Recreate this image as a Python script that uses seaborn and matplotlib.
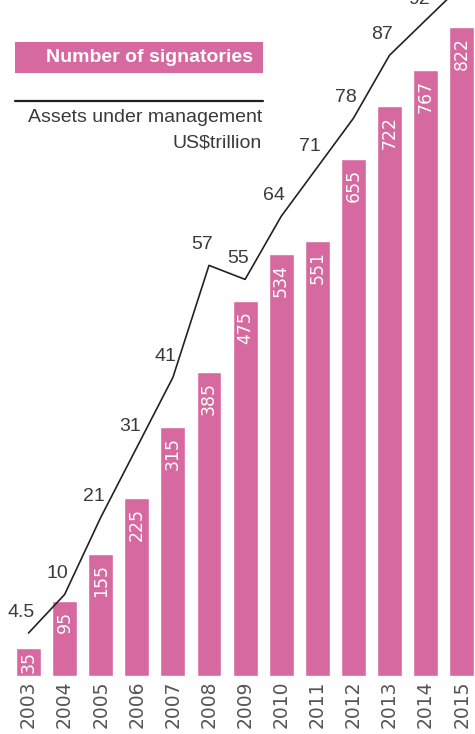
import numpy as np
import pandas as pd
import matplotlib
matplotlib.use("Agg")
import matplotlib.pyplot as plt
import seaborn as sns

years = ["2003", "2004", "2005", "2006", "2007", "2008", "2009",
         "2010", "2011", "2012", "2013", "2014", "2015"]
signatories = [35, 95, 155, 225, 315, 385, 475, 534, 551, 655, 722, 767, 822]
assets = [4.5, 10, 21, 31, 41, 57, 55, 64, 71, 78, 87, 92, 97]
asset_labels = ["4.5", "10", "21", "31", "41", "57", "55", "64", "71", "78", "87", "92", ""]

legend_bar = "Number of signatories"
legend_line_1 = "Assets under management"
legend_line_2 = "US\\$trillion"

sns.set_theme(style="white")
plt.rcParams["font.family"] = ["Liberation Sans", "DejaVu Sans"]

W, H = 475, 734
fig = plt.figure(figsize=(W / 100, H / 100), dpi=100)
fig.patch.set_facecolor("white")

bar_color = "#d6699f"
text_grey = "#3a3a3a"

ax = fig.add_axes([0, (H - 676) / H, 1, 676 / H])
df = pd.DataFrame({"year": years, "signatories": signatories})
sns.barplot(data=df, x="year", y="signatories", color=bar_color,
            saturation=1, width=0.69, ax=ax)
ax.set_xlim(-0.79, 12.37)
ax.set_ylim(0, 856)
ax.set_xlabel("")
ax.set_ylabel("")
ax.set_yticks([])
for s in ax.spines.values():
    s.set_visible(False)
ax.tick_params(axis="x", length=0, pad=3, labelsize=13.5, labelcolor="#555555",
               rotation=90)
for lbl in ax.get_xticklabels():
    lbl.set_fontfamily("DejaVu Sans")
    lbl.set_va("top")

# bar value labels
for i, v in enumerate(signatories):
    off = -10 if v > 60 else -3
    ax.annotate(str(v), xy=(i, v), xytext=(0, off), textcoords="offset pixels",
                rotation=90, ha="center", va="top", color="white",
                fontsize=12.5, family="DejaVu Sans")

# line on twin axis
ax2 = ax.twinx()
sns.lineplot(x=np.arange(len(years)), y=assets, ax=ax2, color="#222222",
             linewidth=1.2)
ax2.set_xlim(-0.79, 12.37)
ax2.set_ylim(-1.64, 94.9)
ax2.set_yticks([])
for s in ax2.spines.values():
    s.set_visible(False)
for i, (v, t) in enumerate(zip(assets, asset_labels)):
    if t:
        ax2.annotate(t, xy=(i, v), xytext=(-7, 21), textcoords="offset pixels",
                     ha="center", va="center", color=text_grey, fontsize=14,
                     annotation_clip=False)

# legend-like annotations
def fx(px):
    return px / W

def fy(py):
    return 1 - py / H

fig.patches.append(matplotlib.patches.Rectangle(
    (fx(15), fy(73)), fx(263) - fx(15), fy(42) - fy(73),
    transform=fig.transFigure, facecolor=bar_color, edgecolor="none"))
fig.text(fx(253), fy(57), legend_bar, ha="right", va="center", color="white",
         fontsize=14, fontweight="bold")
fig.add_artist(matplotlib.lines.Line2D([fx(15), fx(263)], [fy(101), fy(101)],
                                       transform=fig.transFigure,
                                       color="#222222", linewidth=1.6))
fig.text(fx(262), fy(118), legend_line_1, ha="right", va="center",
         color=text_grey, fontsize=14)
fig.text(fx(262), fy(143), legend_line_2, ha="right", va="center",
         color=text_grey, fontsize=14)

fig.savefig("out.png", dpi=100, facecolor="white")
